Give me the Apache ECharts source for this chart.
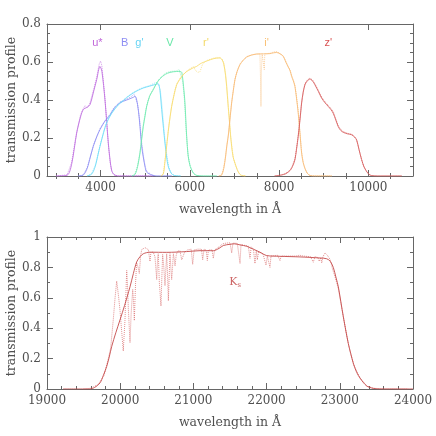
<!DOCTYPE html>
<html>
<head>
<meta charset="utf-8">
<script src="https://cdn.jsdelivr.net/npm/echarts@6/dist/echarts.min.js"></script>
<style>
  html, body { margin: 0; padding: 0; background: #fff; }
  #chart { width: 436px; height: 436px; }
</style>
</head>
<body>
<div id="chart"></div>
<script>
// optical filters, [wavelength in A, transmission]
var uSolid = [[3000,0],[3250,0.004],[3350,0.06],[3465,0.226],[3550,0.31],[3613,0.35],[3700,0.362],[3763,0.375],[3850,0.45],[3913,0.507],[3987,0.577],[4030,0.55],[4099,0.4],[4173,0.175],[4215,0.08],[4249,0.03],[4300,0.008],[4400,0],[5200,0]]
var uDotted = [[3000,0],[3250,0.006],[3350,0.07],[3465,0.23],[3550,0.32],[3613,0.355],[3650,0.37],[3700,0.36],[3763,0.385],[3850,0.46],[3913,0.52],[3970,0.59],[4000,0.605],[4030,0.58],[4099,0.41],[4173,0.17],[4215,0.07],[4249,0.025],[4300,0.006],[4400,0],[5200,0]]
var bSolid = [[3500,0],[3613,0.005],[3700,0.04],[3770,0.1],[3837,0.156],[3920,0.21],[3987,0.244],[4100,0.29],[4211,0.32],[4300,0.355],[4435,0.385],[4585,0.4],[4733,0.414],[4770,0.42],[4800,0.41],[4850,0.34],[4883,0.26],[4920,0.16],[4957,0.1],[5000,0.045],[5033,0.02],[5150,0.005],[5250,0],[5600,0]]
var bDotted = [[3500,0],[3613,0.006],[3700,0.045],[3770,0.1],[3837,0.16],[3920,0.21],[3987,0.25],[4100,0.29],[4211,0.325],[4300,0.36],[4435,0.39],[4585,0.405],[4700,0.42],[4750,0.432],[4790,0.425],[4830,0.38],[4883,0.28],[4920,0.18],[4957,0.11],[5000,0.05],[5033,0.025],[5150,0.006],[5250,0],[5600,0]]
var gSolid = [[3700,0],[3800,0.01],[3880,0.05],[3950,0.12],[3987,0.156],[4070,0.23],[4137,0.28],[4250,0.33],[4400,0.375],[4509,0.396],[4600,0.415],[4733,0.437],[4850,0.452],[4957,0.463],[5100,0.473],[5200,0.48],[5290,0.485],[5330,0.45],[5369,0.35],[5410,0.25],[5443,0.174],[5480,0.1],[5517,0.05],[5580,0.015],[5650,0.003],[5800,0]]
var gDotted = [[3700,0],[3800,0.012],[3880,0.055],[3950,0.12],[3987,0.16],[4070,0.235],[4137,0.285],[4250,0.335],[4400,0.378],[4509,0.4],[4600,0.418],[4733,0.44],[4850,0.455],[4957,0.466],[5100,0.476],[5200,0.488],[5260,0.492],[5300,0.48],[5340,0.45],[5380,0.36],[5420,0.25],[5450,0.17],[5490,0.1],[5530,0.045],[5590,0.012],[5660,0.002],[5800,0]]
var vSolid = [[4700,0],[4771,0.008],[4830,0.05],[4883,0.12],[4920,0.19],[4957,0.26],[5000,0.32],[5033,0.366],[5100,0.42],[5181,0.454],[5250,0.485],[5331,0.512],[5450,0.535],[5555,0.545],[5700,0.55],[5790,0.55],[5820,0.545],[5860,0.47],[5891,0.384],[5929,0.21],[5966,0.1],[6010,0.05],[6080,0.015],[6153,0.003],[6300,0],[6600,0]]
var vDotted = [[4700,0],[4771,0.01],[4830,0.055],[4883,0.125],[4920,0.2],[4957,0.27],[5000,0.33],[5033,0.37],[5100,0.425],[5181,0.458],[5250,0.49],[5331,0.515],[5450,0.54],[5555,0.55],[5700,0.553],[5760,0.56],[5800,0.552],[5840,0.5],[5880,0.4],[5920,0.23],[5960,0.11],[6010,0.05],[6080,0.014],[6153,0.003],[6300,0],[6600,0]]
var rSolid = [[5350,0],[5405,0.01],[5440,0.07],[5480,0.156],[5530,0.26],[5593,0.366],[5650,0.43],[5705,0.48],[5780,0.51],[5853,0.533],[5930,0.55],[6003,0.56],[6080,0.57],[6153,0.577],[6230,0.59],[6301,0.598],[6400,0.607],[6525,0.617],[6600,0.62],[6675,0.621],[6720,0.613],[6760,0.59],[6800,0.53],[6825,0.47],[6855,0.38],[6884,0.296],[6910,0.22],[6937,0.156],[6970,0.1],[7011,0.068],[7060,0.035],[7110,0.012],[7161,0.003],[7250,0]]
var rDotted = [[5350,0],[5405,0.012],[5440,0.075],[5480,0.16],[5530,0.27],[5593,0.37],[5650,0.435],[5705,0.485],[5780,0.515],[5853,0.535],[5930,0.552],[6003,0.565],[6080,0.575],[6130,0.555],[6180,0.545],[6230,0.55],[6280,0.585],[6330,0.6],[6400,0.61],[6525,0.62],[6600,0.624],[6675,0.624],[6720,0.615],[6760,0.595],[6800,0.54],[6830,0.47],[6860,0.37],[6890,0.29],[6915,0.21],[6945,0.15],[6975,0.095],[7015,0.063],[7065,0.03],[7115,0.01],[7170,0.002],[7250,0]]
var iSolid = [[6650,0],[6713,0.005],[6760,0.04],[6800,0.1],[6830,0.16],[6861,0.21],[6900,0.3],[6937,0.384],[6975,0.45],[7011,0.507],[7060,0.55],[7123,0.586],[7200,0.61],[7273,0.626],[7380,0.636],[7497,0.642],[7650,0.643],[7795,0.644],[7870,0.648],[7945,0.65],[8020,0.643],[8093,0.63],[8150,0.6],[8200,0.575],[8243,0.556],[8281,0.524],[8320,0.5],[8355,0.47],[8390,0.41],[8429,0.33],[8467,0.226],[8505,0.12],[8540,0.07],[8579,0.04],[8630,0.015],[8691,0.003],[8800,0],[9180,0]]
var iDotted = [[6650,0],[6713,0.006],[6760,0.045],[6800,0.105],[6830,0.165],[6861,0.215],[6900,0.305],[6937,0.39],[6975,0.455],[7011,0.51],[7060,0.552],[7123,0.59],[7200,0.612],[7273,0.628],[7380,0.638],[7497,0.642],[7570,0.643],[7585,0.5],[7594,0.366],[7603,0.55],[7620,0.643],[7655,0.643],[7668,0.56],[7680,0.643],[7795,0.646],[7870,0.652],[7945,0.655],[8020,0.645],[8093,0.632],[8150,0.604],[8200,0.58],[8243,0.56],[8281,0.53],[8320,0.505],[8355,0.48],[8390,0.42],[8429,0.34],[8467,0.23],[8505,0.125],[8540,0.072],[8579,0.04],[8630,0.014],[8691,0.002],[8800,0],[9180,0]]
var zSolid = [[7900,0],[8050,0.005],[8150,0.012],[8250,0.03],[8300,0.05],[8355,0.086],[8390,0.14],[8429,0.21],[8470,0.3],[8505,0.384],[8540,0.44],[8579,0.48],[8630,0.5],[8691,0.51],[8750,0.5],[8803,0.48],[8880,0.445],[8953,0.41],[9030,0.385],[9101,0.366],[9160,0.35],[9213,0.33],[9270,0.295],[9325,0.26],[9380,0.24],[9437,0.23],[9530,0.222],[9625,0.217],[9690,0.205],[9737,0.19],[9790,0.14],[9849,0.086],[9900,0.05],[9961,0.024],[10020,0.008],[10073,0.002],[10200,0],[10750,0]]
var zDotted = [[7900,0],[8050,0.006],[8150,0.014],[8250,0.032],[8300,0.055],[8355,0.09],[8390,0.145],[8429,0.215],[8470,0.31],[8505,0.39],[8540,0.445],[8579,0.485],[8630,0.505],[8691,0.515],[8750,0.505],[8803,0.485],[8880,0.45],[8953,0.415],[9030,0.39],[9101,0.372],[9160,0.355],[9213,0.34],[9270,0.3],[9325,0.265],[9380,0.245],[9437,0.234],[9530,0.225],[9625,0.22],[9690,0.208],[9737,0.19],[9790,0.14],[9849,0.085],[9900,0.048],[9961,0.022],[10020,0.007],[10073,0.002],[10200,0],[10750,0]]

// Ks band
var kSolid = [[19220,0],[19587,0],[19650,0.01],[19724,0.04],[19770,0.09],[19815,0.148],[19850,0.21],[19884,0.28],[19940,0.37],[19997,0.454],[20060,0.55],[20134,0.672],[20180,0.76],[20225,0.836],[20270,0.87],[20316,0.89],[20407,0.9],[20635,0.899],[20908,0.904],[21090,0.91],[21272,0.91],[21350,0.925],[21409,0.944],[21500,0.952],[21560,0.955],[21637,0.948],[21728,0.939],[21818,0.92],[21910,0.9],[22001,0.878],[22183,0.873],[22456,0.869],[22729,0.862],[22821,0.857],[22870,0.84],[22911,0.8],[22950,0.73],[22980,0.672],[23048,0.476],[23116,0.3],[23184,0.17],[23230,0.11],[23276,0.072],[23367,0.02],[23458,0.004],[23550,0],[24000,0]]
var kDotted = [[19500,0],[19600,0.005],[19700,0.03],[19780,0.09],[19838,0.2],[19870,0.27],[19906,0.46],[19930,0.6],[19952,0.71],[19975,0.62],[19997,0.52],[20020,0.38],[20042,0.25],[20065,0.45],[20089,0.78],[20100,0.68],[20111,0.53],[20134,0.305],[20150,0.5],[20171,0.655],[20182,0.58],[20193,0.45],[20210,0.7],[20225,0.83],[20245,0.8],[20261,0.76],[20280,0.88],[20294,0.917],[20320,0.925],[20339,0.93],[20360,0.92],[20384,0.917],[20395,0.88],[20407,0.84],[20420,0.9],[20452,0.9],[20475,0.87],[20499,0.72],[20510,0.85],[20520,0.89],[20535,0.7],[20557,0.546],[20570,0.75],[20580,0.885],[20596,0.8],[20612,0.68],[20625,0.8],[20635,0.89],[20647,0.75],[20658,0.58],[20670,0.75],[20680,0.89],[20692,0.8],[20703,0.72],[20715,0.8],[20726,0.89],[20740,0.85],[20749,0.81],[20765,0.88],[20781,0.906],[20817,0.91],[20840,0.85],[20862,0.84],[20880,0.9],[20920,0.915],[20970,0.92],[20990,0.82],[21010,0.915],[21060,0.92],[21110,0.92],[21127,0.85],[21145,0.92],[21175,0.915],[21190,0.845],[21205,0.915],[21255,0.915],[21272,0.86],[21290,0.915],[21350,0.935],[21400,0.955],[21450,0.96],[21500,0.962],[21523,0.895],[21540,0.96],[21600,0.958],[21625,0.95],[21637,0.826],[21650,0.95],[21700,0.945],[21750,0.94],[21773,0.86],[21790,0.935],[21820,0.92],[21841,0.826],[21860,0.915],[21873,0.85],[21890,0.9],[21950,0.89],[21975,0.88],[21992,0.815],[22010,0.875],[22030,0.87],[22046,0.8],[22060,0.875],[22150,0.88],[22183,0.845],[22200,0.875],[22300,0.875],[22400,0.875],[22450,0.88],[22500,0.875],[22600,0.87],[22638,0.834],[22660,0.87],[22700,0.865],[22720,0.84],[22740,0.865],[22753,0.83],[22770,0.87],[22798,0.895],[22830,0.88],[22870,0.85],[22900,0.79],[22940,0.73],[22980,0.66],[23050,0.47],[23120,0.29],[23190,0.16],[23280,0.07],[23370,0.02],[23460,0.005],[23600,0],[23930,0]]

// filter names and where they are written (wavelength, transmission)
var filterNames = ['u*', 'B', "g'", 'V', "r'", "i'", "z'"]
var filterLabelAt = [[3930,0.7],[4540,0.7],[4870,0.7],[5555,0.7],[6360,0.7],[7720,0.7],[9100,0.7]]
var filterColors = ['#c070e0', '#9090f4', '#70dcf8', '#70eab0', '#f8dc70', '#f8bc78', '#d86060']
var filterLabelColors = ['#b040d0', '#7070f0', '#40c8f0', '#40e090', '#f0d040', '#f8b050', '#d02828']
var filterSolid = [uSolid, bSolid, gSolid, vSolid, rSolid, iSolid, zSolid]
var filterDotted = [uDotted, bDotted, gDotted, vDotted, rDotted, iDotted, zDotted]
var ksLabelAt = [21570, 0.7]

var topMajor = [4000, 6000, 8000, 10000]
var topMinor = [3000, 3500, 4500, 5000, 5500, 6500, 7000, 7500, 8500, 9000, 9500, 10500]

var serif = 'DejaVu Serif'
var axisGray = '#666'
var textGray = '#505050'

function plain (v) { return String(v) }

function xAx (grid, pos, min, max, opts) {
  var a = {
    type: 'value', gridIndex: grid, position: pos, min: min, max: max,
    axisLine: { show: true, onZero: false, lineStyle: { color: axisGray } },
    axisTick: { show: true, inside: true, length: 6, lineStyle: { color: axisGray } },
    axisLabel: { show: false, color: textGray, fontFamily: serif, fontSize: 12, margin: 6, formatter: plain },
    splitLine: { show: false }
  }
  return Object.assign(a, opts || {})
}

function yAx (grid, pos, max, minorSplit, withLabel) {
  return {
    type: 'value', gridIndex: grid, position: pos, min: 0, max: max, interval: 0.2,
    axisLine: { show: true, onZero: false, lineStyle: { color: axisGray } },
    axisTick: { show: true, inside: true, length: 6, lineStyle: { color: axisGray } },
    minorTick: { show: true, splitNumber: minorSplit, length: 3, lineStyle: { color: axisGray } },
    axisLabel: { show: withLabel, color: textGray, fontFamily: serif, fontSize: 12, margin: 6, formatter: plain },
    splitLine: { show: false },
    name: withLabel ? 'transmission profile' : '',
    nameLocation: 'middle', nameGap: 29, nameRotate: 90, nameMoveOverlap: false,
    nameTextStyle: { color: textGray, fontFamily: serif, fontSize: 12.5 }
  }
}

var xName = {
  name: 'wavelength in Å', nameLocation: 'middle', nameGap: 27,
  nameTextStyle: { color: textGray, fontFamily: serif, fontSize: 12.5 }
}

var xAxes = [
  // top panel: ticks placed by hand since the range starts at 2800
  xAx(0, 'bottom', 2800, 11000, Object.assign({
    axisTick: { show: true, inside: true, length: 6, customValues: topMajor, lineStyle: { color: axisGray } },
    axisLabel: { show: true, customValues: topMajor, color: textGray, fontFamily: serif, fontSize: 12, margin: 6, formatter: plain }
  }, xName)),
  xAx(0, 'bottom', 2800, 11000, {
    axisLine: { show: false },
    axisTick: { show: true, inside: true, length: 3, customValues: topMinor, lineStyle: { color: axisGray } }
  }),
  xAx(0, 'top', 2800, 11000, {
    axisTick: { show: true, inside: true, length: 6, customValues: topMajor, lineStyle: { color: axisGray } }
  }),
  xAx(0, 'top', 2800, 11000, {
    axisLine: { show: false },
    axisTick: { show: true, inside: true, length: 3, customValues: topMinor, lineStyle: { color: axisGray } }
  }),
  // bottom panel
  xAx(1, 'bottom', 19000, 24000, Object.assign({
    interval: 1000,
    minorTick: { show: true, splitNumber: 5, length: 3, lineStyle: { color: axisGray } },
    axisLabel: { show: true, color: textGray, fontFamily: serif, fontSize: 12, margin: 6, formatter: plain }
  }, xName)),
  xAx(1, 'top', 19000, 24000, {
    interval: 1000,
    minorTick: { show: true, splitNumber: 5, length: 3, lineStyle: { color: axisGray } }
  })
]

var yAxes = [
  yAx(0, 'left', 0.8, 4, true),
  yAx(0, 'right', 0.8, 4, false),
  yAx(1, 'left', 1, 2, true),
  yAx(1, 'right', 1, 2, false)
]

var series = []
for (var i = 0; i < filterNames.length; i++) {
  series.push({
    type: 'line', xAxisIndex: 0, yAxisIndex: 0, data: filterDotted[i],
    showSymbol: false, smooth: false, silent: true,
    lineStyle: { color: filterColors[i], width: 1, type: 'dotted', opacity: 0.7 }
  })
  series.push({
    type: 'line', xAxisIndex: 0, yAxisIndex: 0, data: filterSolid[i],
    showSymbol: false, smooth: 0.3, silent: true,
    lineStyle: { color: filterColors[i], width: 0.9 }
  })
}

// filter names
series.push({
  type: 'scatter', xAxisIndex: 0, yAxisIndex: 0, symbolSize: 0, silent: true,
  data: filterLabelAt.map(function (p, k) {
    return {
      value: p,
      label: {
        show: true, position: 'inside', formatter: filterNames[k],
        color: filterLabelColors[k], fontFamily: 'Liberation Sans', fontSize: 11
      }
    }
  })
})

series.push({
  type: 'line', xAxisIndex: 4, yAxisIndex: 2, data: kDotted,
  showSymbol: false, smooth: false, silent: true,
  lineStyle: { color: '#d86a6a', width: 1, type: 'dotted', opacity: 0.75 }
})
series.push({
  type: 'line', xAxisIndex: 4, yAxisIndex: 2, data: kSolid,
  showSymbol: false, smooth: 0.3, silent: true,
  lineStyle: { color: '#c44a4a', width: 0.9 }
})
series.push({
  type: 'scatter', xAxisIndex: 4, yAxisIndex: 2, symbolSize: 0, silent: true,
  data: [{
    value: ksLabelAt,
    label: {
      show: true, position: 'inside', formatter: 'K{s|s}',
      color: '#c04040', fontFamily: serif, fontSize: 11,
      rich: { s: { fontSize: 7, verticalAlign: 'bottom', padding: [6, 0, 0, 0], color: '#c04040' } }
    }
  }]
})

var chart = echarts.init(document.getElementById('chart'), null, { renderer: 'canvas' })
chart.setOption({
  backgroundColor: '#fff',
  animation: false,
  grid: [
    { left: 47, top: 24, width: 366, height: 152, containLabel: false, outerBoundsMode: 'none' },
    { left: 47, top: 237, width: 366, height: 152, containLabel: false, outerBoundsMode: 'none' }
  ],
  xAxis: xAxes,
  yAxis: yAxes,
  series: series
})
</script>
</body>
</html>
